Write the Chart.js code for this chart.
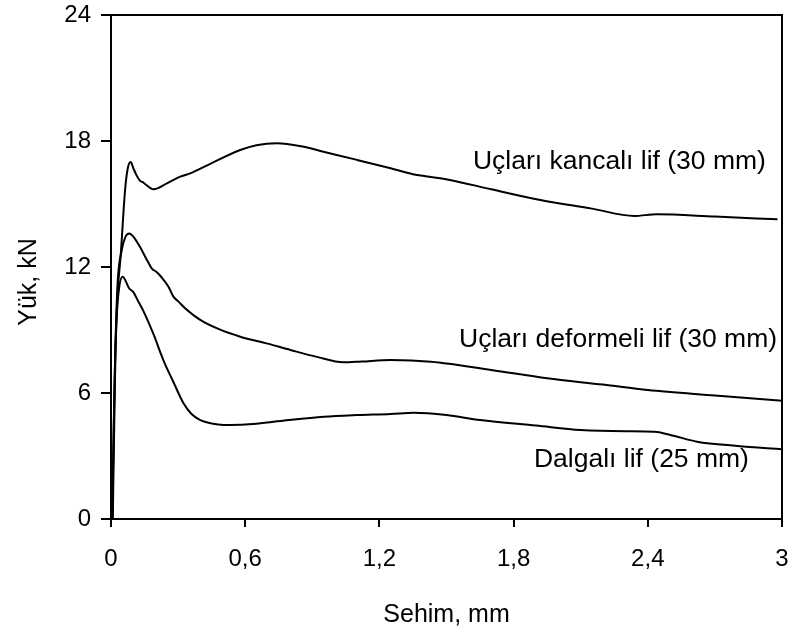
<!DOCTYPE html>
<html lang="tr">
<head>
<meta charset="utf-8">
<title>Yük - Sehim</title>
<script src="https://cdn.jsdelivr.net/npm/chart.js@4/dist/chart.umd.min.js"></script>
<style>
  html, body { margin: 0; padding: 0; background: #fff; }
  #kutu { width: 795px; height: 634px; position: relative; }
</style>
</head>
<body>
<div id="kutu"><canvas id="grafik"></canvas></div>
<script>
// axis ticks
const xTickLabels = ['0', '0,6', '1,2', '1,8', '2,4', '3'];
const yTickLabels = ['0', '6', '12', '18', '24'];

// Uçları kancalı lif (30 mm)
const kancaliSehim = [0.008, 0.02, 0.03, 0.043, 0.063, 0.075, 0.088, 0.1, 0.115, 0.13, 0.14, 0.155, 0.19, 0.25, 0.309, 0.354, 0.45, 0.578, 0.65, 0.742, 0.85, 0.95, 1.1, 1.25, 1.35, 1.406, 1.503, 1.7, 1.92, 2.15, 2.34, 2.44, 2.7, 2.98];
const kancaliYuk   = [0, 8.0, 10.8, 12.5, 15.67, 16.7, 17.0, 16.7, 16.35, 16.1, 16.05, 15.93, 15.7, 15.98, 16.3, 16.46, 16.95, 17.57, 17.8, 17.89, 17.75, 17.49, 17.1, 16.7, 16.42, 16.32, 16.17, 15.7, 15.19, 14.78, 14.43, 14.51, 14.4, 14.27];

// Uçları deformeli lif (30 mm)
const deformeliSehim = [0.006, 0.015, 0.028, 0.048, 0.065, 0.082, 0.1, 0.13, 0.16, 0.182, 0.205, 0.227, 0.257, 0.279, 0.302, 0.33, 0.399, 0.48, 0.578, 0.7, 0.802, 0.92, 1.04, 1.12, 1.25, 1.43, 1.7, 1.95, 2.2, 2.4, 2.7, 3.0];
const deformeliYuk   = [0, 6.0, 10.9, 12.8, 13.45, 13.6, 13.45, 12.95, 12.35, 11.94, 11.75, 11.5, 11.06, 10.59, 10.35, 10.05, 9.48, 9.05, 8.68, 8.35, 8.05, 7.72, 7.46, 7.5, 7.57, 7.49, 7.1, 6.7, 6.4, 6.14, 5.88, 5.63];

// Dalgalı lif (25 mm)
const dalgaliSehim = [0.005, 0.015, 0.025, 0.037, 0.052, 0.065, 0.08, 0.1, 0.12, 0.145, 0.19, 0.234, 0.28, 0.324, 0.36, 0.399, 0.45, 0.503, 0.6, 0.727, 0.951, 1.1, 1.25, 1.354, 1.5, 1.65, 1.9, 2.1, 2.3, 2.43, 2.52, 2.62, 2.8, 3.0];
const dalgaliYuk   = [0, 6.0, 9.5, 11.06, 11.54, 11.35, 11.0, 10.8, 10.4, 9.9, 8.8, 7.57, 6.5, 5.51, 5.0, 4.71, 4.55, 4.48, 4.5, 4.63, 4.87, 4.95, 5.0, 5.06, 4.95, 4.71, 4.45, 4.24, 4.18, 4.16, 3.95, 3.68, 3.48, 3.32];

// curve names written next to the lines
const seriesNames = ['Uçları kancalı lif (30 mm)', 'Uçları deformeli lif (30 mm)', 'Dalgalı lif (25 mm)'];

const FONT = '"Liberation Sans", Arial, sans-serif';

function toPoints(xs, ys) {
  return xs.map((x, i) => ({ x: x, y: ys[i] }));
}

function lineDataset(label, xs, ys) {
  return {
    label: label,
    data: toPoints(xs, ys),
    borderColor: '#000',
    borderWidth: 2,
    pointRadius: 0,
    fill: false,
    cubicInterpolationMode: 'monotone'
  };
}

// frame, curve labels and the y title
const etiketPlugin = {
  id: 'etiketler',
  afterDraw(chart) {
    const { ctx, chartArea, scales } = chart;
    ctx.save();
    ctx.strokeStyle = '#000';
    ctx.lineWidth = 2;
    ctx.strokeRect(chartArea.left, chartArea.top, chartArea.right - chartArea.left, chartArea.bottom - chartArea.top);

    // label anchors in data units (left edge, vertical middle)
    const anchors = [[1.618, 17.0], [1.556, 8.52], [1.891, 2.81]];
    ctx.fillStyle = '#000';
    ctx.font = '26.5px ' + FONT;
    ctx.textAlign = 'left';
    ctx.textBaseline = 'middle';
    seriesNames.forEach((name, i) => {
      ctx.fillText(name, scales.x.getPixelForValue(anchors[i][0]), scales.y.getPixelForValue(anchors[i][1]));
    });

    // y axis title
    ctx.font = '25px ' + FONT;
    ctx.translate(29, 282);
    ctx.rotate(-Math.PI / 2);
    ctx.textAlign = 'center';
    ctx.fillText('Yük, kN', 0, 0);
    ctx.restore();
  }
};

new Chart(document.getElementById('grafik'), {
  type: 'line',
  data: {
    datasets: [
      lineDataset(seriesNames[0], kancaliSehim, kancaliYuk),
      lineDataset(seriesNames[1], deformeliSehim, deformeliYuk),
      lineDataset(seriesNames[2], dalgaliSehim, dalgaliYuk)
    ]
  },
  options: {
    responsive: true,
    maintainAspectRatio: false,
    animation: false,
    layout: { padding: { top: 15, right: 13, left: 0, bottom: 0 } },
    plugins: {
      legend: { display: false },
      tooltip: { enabled: false }
    },
    scales: {
      x: {
        type: 'linear',
        min: 0,
        max: 3,
        afterFit: scale => {
          scale.height = 115;
          scale.paddingLeft = 0;
          scale.paddingRight = 0;
        },
        border: { display: true, color: '#000', width: 2 },
        grid: { drawOnChartArea: false, drawTicks: true, tickLength: 8, color: '#000', lineWidth: 2 },
        ticks: {
          stepSize: 0.6,
          padding: 18,
          color: '#000',
          font: { family: FONT, size: 24 },
          callback: (value, index) => xTickLabels[index]
        },
        title: {
          display: true,
          text: 'Sehim, mm',
          color: '#000',
          font: { family: FONT, size: 25 },
          padding: { top: 4, bottom: 4 }
        }
      },
      y: {
        min: 0,
        max: 24,
        afterFit: scale => {
          scale.width = 111;
          scale.paddingTop = 0;
          scale.paddingBottom = 0;
        },
        border: { display: true, color: '#000', width: 2 },
        grid: { drawOnChartArea: false, drawTicks: true, tickLength: 10, color: '#000', lineWidth: 2 },
        ticks: {
          stepSize: 6,
          padding: 10,
          color: '#000',
          font: { family: FONT, size: 24 },
          callback: (value, index) => yTickLabels[index]
        }
      }
    }
  },
  plugins: [etiketPlugin]
});
</script>
</body>
</html>
